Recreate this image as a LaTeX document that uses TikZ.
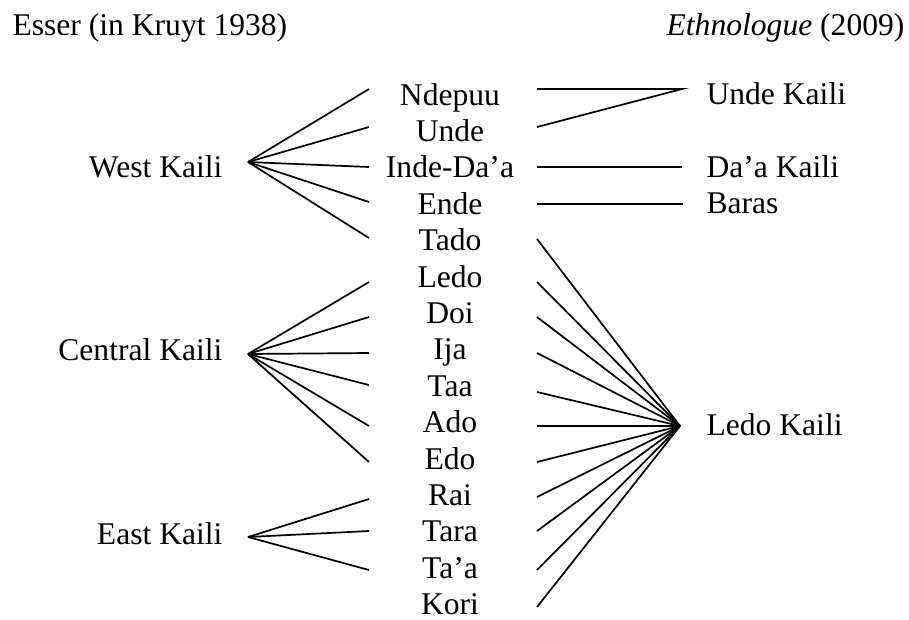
\documentclass[tikz,border=0pt]{standalone}
\usepackage{fontspec}
\setmainfont{Liberation Serif}
\usepackage{tikz}

\tikzset{
  lang/.style={inner sep=0pt, anchor=base},
  link/.style={line width=0.65pt, black}
}

\begin{document}
\begin{tikzpicture}[x=0.3797pt, y=-0.3797pt, font=\fontsize{12}{14}\selectfont]
    \useasboundingbox (0,0) rectangle (909,619);

    \node[lang, anchor=base west] (esser) at (12,35) {Esser (in Kruyt 1938)};
    \node[lang, anchor=base east] (ethno) at (905,35) {\textit{Ethnologue} (2009)};

    % dialects, with the ends of their left and right lines
    \foreach \i/\name/\ly/\ry in {0/Ndepuu/89/89, 1/Unde/127/127, 2/Inde-Da'a/167/167,
        3/Ende/202/204, 4/Tado/238/239, 5/Ledo/282/282, 6/Doi/317/317, 7/Ija/353/353,
        8/Taa/385/392, 9/Ado/426/426, 10/Edo/462/462, 11/Rai/499/497, 12/Tara/531/531,
        13/Ta'a/570/570, 14/Kori/607/607} {
      \node[lang] (m\i) at (450,{105+36.4*\i}) {\name};
      \coordinate (l\i) at (369,\ly);
      \coordinate (r\i) at (537,\ry);
    }

    \node[lang, anchor=base east] (west) at (223,177) {West Kaili};
    \node[lang, anchor=base east] (central) at (223,360) {Central Kaili};
    \node[lang, anchor=base east] (east) at (223,544) {East Kaili};
    \coordinate (westhub) at (248,162);
    \coordinate (centralhub) at (248,354);
    \coordinate (easthub) at (248,537);

    \node[lang, anchor=base west] (undekaili) at (706,104) {Unde Kaili};
    \node[lang, anchor=base west] (daakaili) at (706,177) {Da'a Kaili};
    \node[lang, anchor=base west] (baras) at (706,213) {Baras};
    \node[lang, anchor=base west] (ledokaili) at (706,435) {Ledo Kaili};
    \coordinate (undehub) at (682,89);
    \coordinate (daahub) at (682,167);
    \coordinate (barashub) at (683,204);
    \coordinate (ledohub) at (680,426);

    \foreach \i in {0,...,4} \draw[link] (westhub) -- (l\i);
    \foreach \i in {5,...,10} \draw[link] (centralhub) -- (l\i);
    \foreach \i in {11,12,13} \draw[link] (easthub) -- (l\i);

    \draw[link] (r0) -- (undehub) -- (r1);
    \draw[link] (r2) -- (daahub);
    \draw[link] (r3) -- (barashub);
    \foreach \i in {4,...,14} \draw[link] (r\i) -- (ledohub);
\end{tikzpicture}
\end{document}
